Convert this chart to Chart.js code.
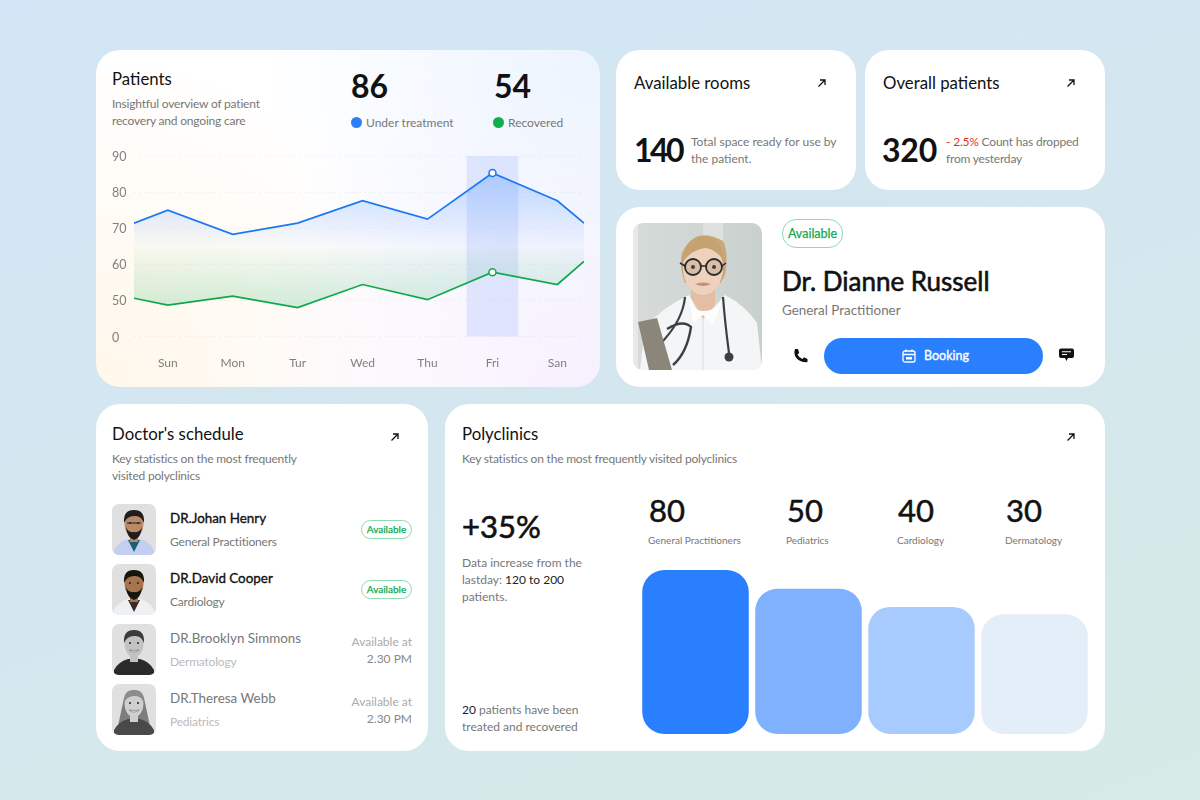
<!DOCTYPE html>
<html>
<head>
<meta charset="utf-8">
<title>Clinic dashboard</title>
<script src="https://cdn.jsdelivr.net/npm/chart.js@4/dist/chart.umd.min.js"></script>
<style>
  html, body { margin: 0; padding: 0; }
  body {
    width: 1200px; height: 800px; position: relative; overflow: hidden;
    background: linear-gradient(160deg, #d2e5f6 0%, #d4e7ef 50%, #d6ebe6 100%);
    font-family: Lato, "Noto Sans", sans-serif; color: #777;
  }
  .card { position: absolute; background: #fff; border-radius: 24px; }
  .t { position: absolute; white-space: nowrap; line-height: 1; }
  .title { font-size: 16.8px; color: #111; }
  .sub { font-size: 12px; line-height: 17px; color: #777; }
  .tight { letter-spacing: -0.2px; }
  .num { font-weight: 700; color: #111; }
  .med { -webkit-text-stroke: 0.35px currentColor; }
  .pill {
    position: absolute; box-sizing: border-box; border: 1px solid #8fdcb0; border-radius: 14px;
    color: #10a84f; text-align: center; background: #fff; -webkit-text-stroke: 0.25px currentColor;
  }
  canvas { position: absolute; }
  svg { position: absolute; }
  .dot { position: absolute; width: 11px; height: 11px; border-radius: 50%; }
</style>
</head>
<body>
  <div class="card" style="left:96px;top:50px;width:504px;height:337px;
    background:
      radial-gradient(circle at 100% 0%, #ecf4ff 0%, rgba(236,244,255,0) 55%),
      radial-gradient(circle at 100% 100%, #f8f0fe 0%, rgba(248,240,254,0) 60%),
      radial-gradient(circle at 0% 100%, #fff7ea 0%, rgba(255,247,234,0) 55%),
      #ffffff;"></div>
  <div class="card" style="left:616px;top:50px;width:240px;height:140px"></div>
  <div class="card" style="left:865px;top:50px;width:240px;height:140px"></div>
  <div class="card" style="left:616px;top:207px;width:489px;height:180px"></div>
  <div class="card" style="left:96px;top:404px;width:332px;height:347px"></div>
  <div class="card" style="left:445px;top:404px;width:660px;height:347px"></div>

  <!-- Patients -->
  <div class="t title" style="left:112px;top:71px">Patients</div>
  <div class="t sub tight" style="left:112px;top:95px">Insightful overview of patient<br>recovery and ongoing care</div>
  <div class="t num" id="underNum" style="left:351px;top:70px;font-size:32px"></div>
  <div class="t num" id="recNum" style="left:494px;top:70px;font-size:32px"></div>
  <div class="dot" style="left:351px;top:117px;background:#2a7fff"></div>
  <div class="t" style="left:366px;top:117px;font-size:12px">Under treatment</div>
  <div class="dot" style="left:493px;top:117px;background:#0fae4f"></div>
  <div class="t" style="left:508px;top:117px;font-size:12px">Recovered</div>
  <canvas id="patientsChart" style="left:112px;top:146px;width:472px;height:230px"></canvas>

  <!-- top right cards -->
  <div class="t title" style="left:634px;top:75px">Available rooms</div>
  <div class="t num" style="left:634px;top:134px;font-size:32px;letter-spacing:-2.5px">140</div>
  <div class="t sub" style="left:691px;top:133px">Total space ready for use by<br>the patient.</div>
  <div class="t title" style="left:883px;top:75px">Overall patients</div>
  <div class="t num" style="left:882px;top:134px;font-size:32px;letter-spacing:-0.2px">320</div>
  <div class="t sub tight" style="left:946px;top:133px"><span style="color:#e0301e">- 2.5%</span> Count has dropped<br>from yesterday</div>
  <svg class="arrow" style="left:817px;top:78px" width="10" height="10" viewBox="0 0 10 10"><path d="M1.5 8.5L8 2M3 2H8V7" fill="none" stroke="#111" stroke-width="1.3"/></svg>
  <svg class="arrow" style="left:1066px;top:78px" width="10" height="10" viewBox="0 0 10 10"><path d="M1.5 8.5L8 2M3 2H8V7" fill="none" stroke="#111" stroke-width="1.3"/></svg>

  <!-- doctor card -->
  <svg style="left:633px;top:223px" width="129" height="147" viewBox="0 0 129 147">
    <defs>
      <clipPath id="pc"><rect width="129" height="147" rx="10"/></clipPath>
      <filter id="soft"><feGaussianBlur stdDeviation="0.7"/></filter>
      <linearGradient id="bgp" x1="0" y1="0" x2="1" y2="0"><stop offset="0" stop-color="#d6dbd9"/><stop offset="1" stop-color="#c9d1ce"/></linearGradient>
    </defs>
    <g clip-path="url(#pc)">
      <rect width="129" height="147" fill="url(#bgp)"/>
      <g filter="url(#soft)">
      <rect x="0" y="0" width="5" height="147" fill="#e6e9e8"/>
      <rect x="70" y="0" width="20" height="60" fill="#dde2e0"/>
      <path d="M49 30Q62 2 90 18Q96 30 92 52L88 60H52Q46 44 49 30Z" fill="#c9a878"/>
      <path d="M58 62H82V86L70 98L58 86Z" fill="#e3bda4"/>
      <ellipse cx="70" cy="45" rx="20" ry="27" fill="#efd2be"/>
      <path d="M49 40Q51 14 72 13Q89 15 92 40Q84 26 72 25Q58 27 49 40Z" fill="#c6a270"/>
      <circle cx="60" cy="44" r="8" fill="rgba(60,50,50,0.12)" stroke="#2a2a2a" stroke-width="1.8"/>
      <circle cx="81" cy="44" r="8" fill="rgba(60,50,50,0.12)" stroke="#2a2a2a" stroke-width="1.8"/>
      <path d="M68 43H73M52 43L47 40M89 43L93 40" stroke="#2a2a2a" stroke-width="1.5"/>
      <circle cx="60" cy="44" r="2" fill="#4a3c30"/><circle cx="81" cy="44" r="2" fill="#4a3c30"/>
      <path d="M62 61Q70 65 78 61Q70 58 62 61Z" fill="#c98a7f"/>
      <path d="M7 147L12 104Q30 84 56 72L70 96L92 72Q112 82 124 100L129 147Z" fill="#f3f5f6"/>
      <path d="M56 72L60 100L70 92L80 102L92 72L84 84Q70 92 60 84Z" fill="#fdfdfd"/>
      <path d="M70 96V147" stroke="#d8dde0" stroke-width="1"/>
      <path d="M52 74Q50 96 30 118Q24 128 30 134M90 74Q92 100 96 130" fill="none" stroke="#3c4042" stroke-width="2.2"/>
      <path d="M34 106Q50 96 58 104Q54 130 40 142" fill="none" stroke="#3c4042" stroke-width="2.4"/>
      <circle cx="96" cy="134" r="4.5" fill="#3c4042"/>
      <path d="M5 99L24 95L39 147H16Z" fill="#8b857a"/>
      </g>
    </g>
  </svg>
  <div class="pill" style="left:782px;top:219px;width:61px;height:29px;line-height:27px;font-size:12.5px">Available</div>
  <div class="t med" style="left:782px;top:268px;font-size:26px;color:#111;-webkit-text-stroke-width:0.6px">Dr. Dianne Russell</div>
  <div class="t" style="left:782px;top:304px;font-size:13.4px">General Practitioner</div>
  <svg style="left:793px;top:348px" width="15" height="15" viewBox="0 0 15 15"><path d="M2 1L5 1L6.2 5L4.5 6.5Q6 10 9.5 11L11 9.3L14.5 11V14Q6 15 2 8Q0.5 4 2 1Z" fill="#111"/></svg>
  <div style="position:absolute;left:824px;top:338px;width:219px;height:36px;border-radius:18px;background:#2a7fff"></div>
  <svg style="left:902px;top:349px" width="14" height="14" viewBox="0 0 14 14"><rect x="1" y="2" width="12" height="11" rx="2" fill="none" stroke="#fff" stroke-width="1.3"/><path d="M1 5.5H13M4 0.5V3M10 0.5V3" stroke="#fff" stroke-width="1.3"/><rect x="4" y="8" width="6" height="2.5" fill="#fff"/></svg>
  <div class="t med" style="left:924px;top:350px;font-size:12.5px;color:#fff">Booking</div>
  <svg style="left:1059px;top:348px" width="15" height="15" viewBox="0 0 15 15"><path d="M2 0.5H13Q15 0.5 15 2.5V8Q15 10 13 10H9L7.5 13L6 10H2Q0 10 0 8V2.5Q0 0.5 2 0.5Z" fill="#111"/><path d="M3 3.7H12M3 6.5H8" stroke="#fff" stroke-width="1.1"/></svg>

  <!-- schedule -->
  <div class="t title" style="left:112px;top:426px">Doctor's schedule</div>
  <div class="t sub tight" style="left:112px;top:450px">Key statistics on the most frequently<br>visited polyclinics</div>
  <svg class="arrow" style="left:390px;top:432px" width="10" height="10" viewBox="0 0 10 10"><path d="M1.5 8.5L8 2M3 2H8V7" fill="none" stroke="#111" stroke-width="1.3"/></svg>
  <div id="schedule"></div>

  <!-- polyclinics -->
  <div class="t title" style="left:462px;top:426px">Polyclinics</div>
  <div class="t sub tight" style="left:462px;top:450px">Key statistics on the most frequently visited polyclinics</div>
  <svg class="arrow" style="left:1066px;top:432px" width="10" height="10" viewBox="0 0 10 10"><path d="M1.5 8.5L8 2M3 2H8V7" fill="none" stroke="#111" stroke-width="1.3"/></svg>
  <div class="t med" style="left:462px;top:511px;font-size:31px;color:#111;-webkit-text-stroke-width:0.6px">+35%</div>
  <div class="t sub" style="left:462px;top:554px">Data increase from the<br>lastday: <span style="color:#222">120 to 200</span><br>patients.</div>
  <div class="t sub" style="left:462px;top:701px"><span style="color:#222">20</span> patients have been<br>treated and recovered</div>
  <div id="clinicLabels"></div>
  <canvas id="clinicChart" style="left:639px;top:570px;width:452px;height:164px"></canvas>

<script>
// Patients line chart
const dayLabels = ['Sun', 'Mon', 'Tur', 'Wed', 'Thu', 'Fri', 'San'];
const dayPositions = [-0.52, 0, 1, 2, 3, 4, 5, 6, 6.41];
const underTreatment = [71.4, 75, 68.3, 71.4, 77.6, 72.5, 85.3, 77.6, 71.4];
const recovered = [50.6, 48.7, 51.2, 48, 54.4, 50.2, 57.8, 54.4, 60.8];
const yTickValues = [40, 50, 60, 70, 80, 90];
const yTickLabels = ['0', '50', '60', '70', '80', '90'];
const highlightDay = 5;
const fillSplit = 64.7;
const underNow = 86;
const recoveredNow = 54;

// Polyclinics bar chart
const clinics = ['General Practitioners', 'Pediatrics', 'Cardiology', 'Dermatology'];
const clinicCounts = [80, 50, 40, 30];
const clinicLevels = [100, 88.5, 77.5, 73];
const clinicColors = ['#2a7fff', '#7fb1ff', '#a8cbff', '#e3eef9'];
const clinicLabelLeft = [649, 787, 898, 1006];

// Schedule list
const doctors = ['DR.Johan Henry', 'DR.David Cooper', 'DR.Brooklyn Simmons', 'DR.Theresa Webb'];
const specialities = ['General Practitioners', 'Cardiology', 'Dermatology', 'Pediatrics'];
const isAvailable = [true, true, false, false];

document.getElementById('underNum').textContent = underNow;
document.getElementById('recNum').textContent = recoveredNow;

function avatar(i) {
    const skin = ['#b98a68', '#a87350', '#c2c2c2', '#cfcfcf'][i];
    const hair = ['#221c1a', '#151210', '#3a3a3a', '#8c8c8c'][i];
    const shirt = ['#c3cfee', '#eef1f4', '#2a2a2a', '#4a4a4a'][i];
    const beard = i < 2 ? `<path d="M14 23Q15 34 22 36Q29 34 30 23Q28 29 22 28Q16 29 14 23Z" fill="${hair}"/>` : '';
    const longHair = i === 3 ? `<path d="M12 14Q22 -2 32 14L38 42L30 46H14L6 42Z" fill="#7d7d7d"/>` : '';
    const glasses = i === 0 ? `<path d="M15 19H20M24 19H29M20 19H24" stroke="#222" stroke-width="1.2"/>` : '';
    const eyes = `<circle cx="18" cy="19" r="1" fill="#222"/><circle cx="26" cy="19" r="1" fill="#222"/>`;
    const smile = i > 1 ? `<path d="M17 26Q22 30 27 26Q22 27 17 26Z" fill="#fff" stroke="#555" stroke-width="0.5"/>` : '';
    const coat = i < 2 ? `<path d="M16 36L22 48L28 36" fill="${i === 0 ? '#1f5f7a' : '#3a2c28'}"/>` : '';
    return `<svg style="left:0;top:0" width="44" height="51" viewBox="0 0 44 51">
      <clipPath id="av${i}"><rect width="44" height="51" rx="7"/></clipPath>
      <g clip-path="url(#av${i})">
      <rect width="44" height="51" fill="#e0e0e0"/>
      <g filter="url(#soft)">
      ${longHair}
      <path d="M2 51V46Q6 38 16 35H28Q38 38 42 46V51Z" fill="${shirt}"/>
      ${coat}
      <rect x="18" y="28" width="8" height="10" fill="${skin}"/>
      <ellipse cx="22" cy="20" rx="9.5" ry="13" fill="${skin}"/>
      ${beard}
      <path d="M12 19Q11 6 22 6Q33 6 32 19Q29 11 22 12Q15 12 12 19Z" fill="${hair}"/>
      </g>
      ${eyes}${glasses}${smile}
      </g>
    </svg>`;
}

// Build the doctor rows
const scheduleEl = document.getElementById('schedule');
doctors.forEach((name, i) => {
    const rowTop = 504 + i * 60;
    const dim = !isAvailable[i];
    let html = `<div style="position:absolute;left:112px;top:${rowTop}px;width:44px;height:51px">${avatar(i)}</div>`;
    html += `<div class="t med" style="left:170px;top:${rowTop + 8}px;font-size:13.4px;color:${dim ? '#777' : '#111'};-webkit-text-stroke-width:${dim ? 0 : 0.35}px">${name}</div>`;
    html += `<div class="t tight" style="left:170px;top:${rowTop + 32}px;font-size:12px;color:${dim ? '#bbb' : '#777'}">${specialities[i]}</div>`;
    if (isAvailable[i]) {
        html += `<div class="pill" style="left:361px;top:${rowTop + 16}px;width:51px;height:19px;line-height:17px;font-size:10px">Available</div>`;
    } else {
        html += `<div class="t" style="right:788px;top:${rowTop + 9}px;font-size:12px;color:#aaa;text-align:right;line-height:17px">Available at<br><span style="color:#888">2.30 PM</span></div>`;
    }
    scheduleEl.insertAdjacentHTML('beforeend', html);
});

// Numbers above the bars
const labelsEl = document.getElementById('clinicLabels');
clinics.forEach((name, i) => {
    labelsEl.insertAdjacentHTML('beforeend',
        `<div class="t med" style="left:${clinicLabelLeft[i]}px;top:495px;font-size:31px;color:#111;-webkit-text-stroke-width:0.5px">${clinicCounts[i]}</div>` +
        `<div class="t" style="left:${clinicLabelLeft[i] - 1}px;top:535px;font-size:10px;color:#777">${name}</div>`);
});

function areaGradient(context, topValue, bottomValue, topColor, bottomColor) {
    const chart = context.chart;
    if (!chart.chartArea) {
        return topColor;
    }
    const y = chart.scales.y;
    const grad = chart.ctx.createLinearGradient(0, y.getPixelForValue(topValue), 0, y.getPixelForValue(bottomValue));
    grad.addColorStop(0, topColor);
    grad.addColorStop(1, bottomColor);
    return grad;
}

const xyPoints = values => values.map((v, i) => ({ x: dayPositions[i], y: v }));
const friIndex = dayPositions.indexOf(highlightDay);

new Chart(document.getElementById('patientsChart'), {
    type: 'line',
    data: {
        datasets: [
            {
                label: 'Under treatment',
                data: xyPoints(underTreatment),
                borderColor: '#1a78f5',
                borderWidth: 1.7,
                tension: 0,
                fill: { value: fillSplit },
                backgroundColor: ctx => areaGradient(ctx, 86, fillSplit, 'rgba(42,127,255,0.28)', 'rgba(42,127,255,0.02)'),
                pointRadius: ctx => (ctx.dataIndex === friIndex ? 3.5 : 0),
                pointBackgroundColor: '#fff',
                pointBorderColor: '#1a78f5',
                pointBorderWidth: 1.5,
                order: 1
            },
            {
                label: 'Recovered',
                data: xyPoints(recovered),
                borderColor: '#0fa84c',
                borderWidth: 1.7,
                tension: 0,
                fill: { value: fillSplit },
                backgroundColor: ctx => areaGradient(ctx, fillSplit, 47, 'rgba(15,170,80,0.03)', 'rgba(15,170,80,0.2)'),
                pointRadius: ctx => (ctx.dataIndex === friIndex ? 3.5 : 0),
                pointBackgroundColor: '#fff',
                pointBorderColor: '#0fa84c',
                pointBorderWidth: 1.5,
                order: 2
            },
            {
                type: 'bar',
                label: 'Selected day',
                data: [{ x: highlightDay, y: [40, 90] }],
                backgroundColor: 'rgba(130,160,250,0.2)',
                barThickness: 51,
                order: 3
            }
        ]
    },
    options: {
        animation: false,
        responsive: false,
        layout: { padding: { top: 10 } },
        plugins: { legend: { display: false }, tooltip: { enabled: false } },
        scales: {
            x: {
                type: 'linear',
                offset: false,
                min: dayPositions[0],
                max: dayPositions[dayPositions.length - 1],
                grid: { display: false },
                border: { display: false },
                afterFit: axis => { axis.height = 39.5; },
                ticks: {
                    stepSize: 1,
                    includeBounds: false,
                    autoSkip: false,
                    maxRotation: 0,
                    padding: 11,
                    color: '#808080',
                    font: { family: 'Lato', size: 12 },
                    callback: v => dayLabels[v]
                }
            },
            y: {
                min: 40,
                max: 90,
                border: { display: false, dash: [2, 3] },
                grid: { color: 'rgba(0,0,0,0.045)', drawTicks: false },
                afterFit: axis => { axis.width = 22; },
                ticks: {
                    stepSize: 10,
                    crossAlign: 'far',
                    padding: 0,
                    labelOffset: 1,
                    color: '#808080',
                    font: { family: 'Lato', size: 12.5 },
                    callback: v => yTickLabels[yTickValues.indexOf(v)]
                }
            }
        }
    }
});

new Chart(document.getElementById('clinicChart'), {
    type: 'bar',
    data: {
        labels: clinics,
        datasets: [{
            data: clinicLevels,
            backgroundColor: clinicColors,
            borderRadius: 22,
            borderSkipped: false,
            categoryPercentage: 1,
            barPercentage: 0.9425
        }]
    },
    options: {
        animation: false,
        responsive: false,
        plugins: { legend: { display: false }, tooltip: { enabled: false } },
        scales: {
            x: { display: false },
            y: { display: false, min: 0, max: 100 }
        }
    }
});
</script>
</body>
</html>
